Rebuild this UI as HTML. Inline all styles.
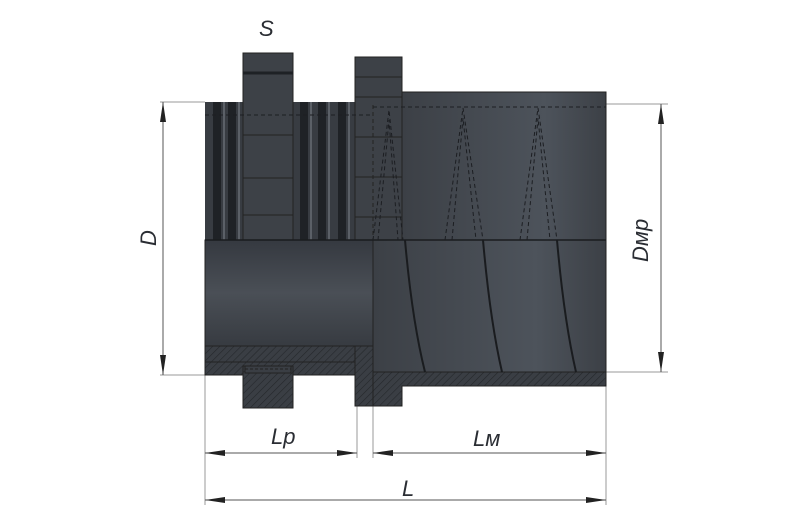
<!DOCTYPE html>
<html><head><meta charset="utf-8"><style>
html,body{margin:0;padding:0;background:#fff;}
svg{display:block}
text{font-family:"Liberation Sans",sans-serif;font-style:italic;fill:#2a2d33;}
</style></head><body>
<svg width="800" height="521" viewBox="0 0 800 521" xmlns="http://www.w3.org/2000/svg">
<defs>
<linearGradient id="gv" x1="0" y1="0" x2="0" y2="1">
<stop offset="0" stop-color="#353940"/><stop offset="0.5" stop-color="#4a4f56"/><stop offset="1" stop-color="#373b41"/>
</linearGradient>
<linearGradient id="gr" x1="0" y1="0" x2="1" y2="0">
<stop offset="0" stop-color="#3c4046"/><stop offset="0.7" stop-color="#4d535b"/><stop offset="1" stop-color="#3c4046"/>
</linearGradient>
<pattern id="h" width="5" height="5" patternUnits="userSpaceOnUse" patternTransform="rotate(45)">
<rect width="5" height="5" fill="#3a3e44"/><line x1="0" y1="0" x2="0" y2="5" stroke="#24272b" stroke-width="1.2"/>
</pattern>
<marker id="a" viewBox="0 0 20 6" refX="20" refY="3" markerWidth="20" markerHeight="6" orient="auto-start-reverse" markerUnits="userSpaceOnUse">
<path d="M0,0 L20,3 L0,6 z" fill="#222"/></marker>
</defs>
<g stroke="#999" stroke-width="1" fill="none">
<line x1="160" y1="102" x2="205" y2="102"/><line x1="160" y1="375" x2="205" y2="375"/>
<line x1="606" y1="104" x2="668" y2="104"/><line x1="606" y1="372" x2="668" y2="372"/>
<line x1="205" y1="375" x2="205" y2="505"/><line x1="357" y1="406" x2="357" y2="458"/>
<line x1="373" y1="406" x2="373" y2="458"/><line x1="606" y1="386" x2="606" y2="505"/>
</g>
<g stroke="#555" stroke-width="1" marker-start="url(#a)" marker-end="url(#a)">
<line x1="163" y1="102" x2="163" y2="375"/>
<line x1="661" y1="104" x2="661" y2="372"/>
<line x1="205" y1="453" x2="357" y2="453"/>
<line x1="373" y1="453" x2="606" y2="453"/>
<line x1="205" y1="500" x2="606" y2="500"/>
</g>
<rect x="205" y="102" width="152" height="138" fill="#383c42"/>
<g fill="#1f2226">
<rect x="213" y="102" width="8" height="138"/><rect x="228" y="102" width="8" height="138"/>
<rect x="300" y="102" width="8" height="138"/><rect x="318" y="102" width="8" height="138"/><rect x="338" y="102" width="8" height="138"/>
</g>
<g fill="#6a7078" opacity="0.7">
<rect x="223" y="102" width="2" height="138"/><rect x="238" y="102" width="2" height="138"/>
<rect x="310" y="102" width="2" height="138"/><rect x="328" y="102" width="2" height="138"/><rect x="348" y="102" width="2" height="138"/>
</g>
<rect x="205" y="240" width="168" height="106" fill="url(#gv)" stroke="#222"/>
<rect x="205" y="346" width="168" height="29" fill="url(#h)" stroke="#222"/>
<line x1="205" y1="362" x2="357" y2="362" stroke="#222"/>
<rect x="402" y="92" width="204" height="148" fill="url(#gr)" stroke="#222"/>
<rect x="373" y="240" width="233" height="132" fill="url(#gr)" stroke="#222"/>
<path d="M373,372 H606 V386 H402 V406 H373 Z" fill="url(#h)" stroke="#222"/>
<rect x="243" y="53" width="50" height="187" fill="#3d4147" stroke="#222"/>
<line x1="243" y1="73" x2="293" y2="73" stroke="#1e2125" stroke-width="3"/>
<line x1="243" y1="135" x2="293" y2="135" stroke="#222"/>
<line x1="243" y1="178" x2="293" y2="178" stroke="#222"/>
<line x1="243" y1="215" x2="293" y2="215" stroke="#222"/>
<rect x="243" y="366" width="50" height="42" fill="url(#h)" stroke="#222"/>
<rect x="245" y="366" width="46" height="7" fill="#3a3e44" stroke="#222"/>
<line x1="245" y1="369" x2="291" y2="369" stroke="#222" stroke-dasharray="3,2"/>
<rect x="355" y="57" width="47" height="183" fill="#3d4147" stroke="#222"/>
<line x1="355" y1="77" x2="402" y2="77" stroke="#222"/>
<line x1="355" y1="97" x2="402" y2="97" stroke="#222"/>
<line x1="355" y1="137" x2="402" y2="137" stroke="#222"/>
<line x1="355" y1="177" x2="402" y2="177" stroke="#222"/>
<line x1="355" y1="217" x2="402" y2="217" stroke="#222"/>
<rect x="355" y="346" width="18" height="60" fill="url(#h)" stroke="#222"/>
<line x1="373" y1="105" x2="373" y2="406" stroke="#222" stroke-dasharray="4,3"/>
<line x1="205" y1="240" x2="606" y2="240" stroke="#1a1c1f" stroke-width="1.5"/>
<g fill="none" stroke="#1c1e22" stroke-dasharray="4,3">
<line x1="373" y1="107" x2="606" y2="107"/>
<line x1="205" y1="115" x2="373" y2="115"/>
<path d="M373,240 L389,110 L403,240"/><path d="M378,240 L389,120 L398,240"/>
<path d="M445,240 L463,108 L483,240"/><path d="M452,240 L463,118 L476,240"/>
<path d="M520,240 L538,108 L557,240"/><path d="M527,240 L538,118 L550,240"/>
</g>
<g fill="none" stroke="#1a1c1f" stroke-width="2">
<path d="M405,240 Q412,320 425,372"/><path d="M483,240 Q490,320 502,372"/><path d="M557,240 Q564,320 576,372"/>
</g>
<text x="259" y="36" font-size="22">S</text>
<text x="271" y="444" font-size="22">Lp</text>
<text x="473" y="446" font-size="22">Lм</text>
<text x="402" y="496" font-size="22">L</text>
<text transform="translate(156,246) rotate(-90)" font-size="22">D</text>
<text transform="translate(648,262) rotate(-90)" font-size="22">Dмp</text>
</svg>
</body></html>
